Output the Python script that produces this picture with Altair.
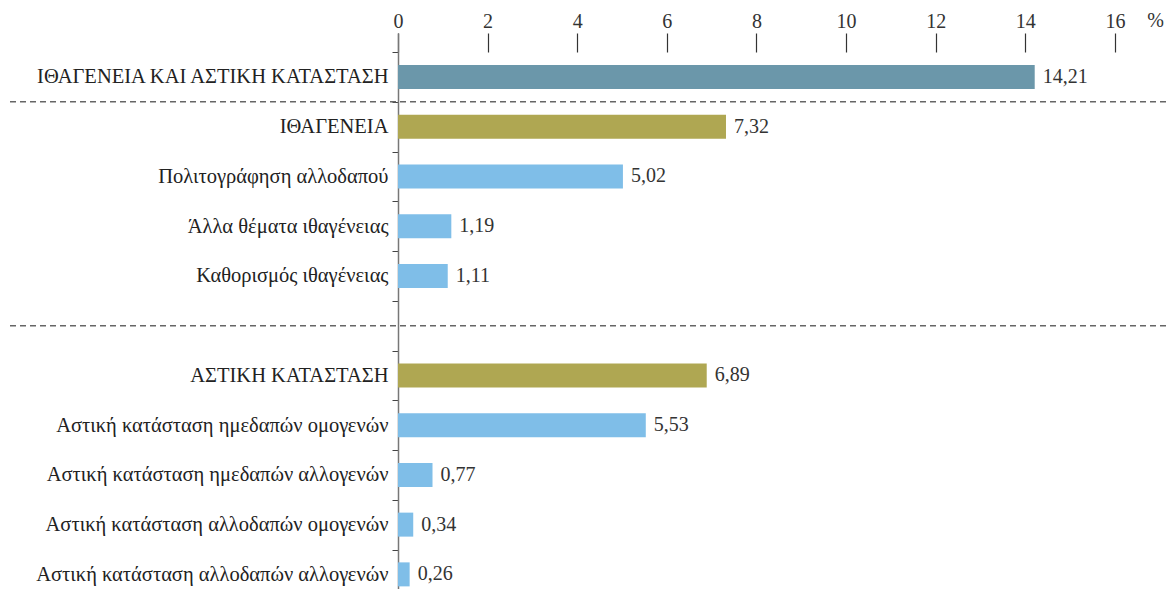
import altair as alt
import pandas as pd

cats = [
    "ΙΘΑΓΕΝΕΙΑ ΚΑΙ ΑΣΤΙΚΗ ΚΑΤΑΣΤΑΣΗ",
    "ΙΘΑΓΕΝΕΙΑ",
    "Πολιτογράφηση αλλοδαπού",
    "Άλλα θέματα ιθαγένειας",
    "Καθορισμός ιθαγένειας",
    " ",
    "ΑΣΤΙΚΗ ΚΑΤΑΣΤΑΣΗ",
    "Αστική κατάσταση ημεδαπών ομογενών",
    "Αστική κατάσταση ημεδαπών αλλογενών",
    "Αστική κατάσταση αλλοδαπών ομογενών",
    "Αστική κατάσταση αλλοδαπών αλλογενών",
]
values = [14.21, 7.32, 5.02, 1.19, 1.11, None, 6.89, 5.53, 0.77, 0.34, 0.26]
levels = ["total", "group", "sub", "sub", "sub", None, "group", "sub", "sub", "sub", "sub"]
x_ticks = [0, 2, 4, 6, 8, 10, 12, 14, 16]

rows = []
for c, v, l in zip(cats, values, levels):
    if v is None:
        continue
    rows.append({"cat": c, "val": v, "level": l, "label": f"{v:.2f}".replace(".", ",")})
df = pd.DataFrame(rows)

FONT = "Liberation Serif"
STEP = 49.75
TOP = 19
PO = TOP / STEP
R = STEP * (len(cats) + 2 * PO)
W = 768
H = 556

yscale = alt.Scale(domain=cats, range=[0, R], paddingInner=0, paddingOuter=PO)
xscale = alt.Scale(domain=[0, 17.14], nice=False, zero=True)

bars = alt.Chart(df).mark_bar(size=24).encode(
    x=alt.X("val:Q", scale=xscale,
            axis=alt.Axis(orient="top", values=x_ticks, offset=-19, tickSize=19,
                          domain=False, grid=False, labelFont=FONT, labelFontSize=20,
                          labelColor="#333", tickColor="#333", tickWidth=1.2,
                          labelPadding=2, labelFlush=False,
                          title="%", titleX=757, titleY=-32, titleAngle=0,
                          titleBaseline="middle", titleAlign="center",
                          titleFont=FONT, titleFontSize=20, titleFontWeight="normal",
                          titleColor="#333")),
    y=alt.Y("cat:N", sort=cats, scale=yscale,
            axis=alt.Axis(title=None, domain=True, domainColor="#777", domainWidth=1.5,
                          ticks=True, tickSize=6, tickColor="#444", tickWidth=1,
                          tickOffset=-STEP / 2, labelOffset=STEP / 2,
                          labelFont=FONT, labelFontSize=20.5, labelColor="#222",
                          labelLimit=500, labelPadding=4, grid=False)),
    color=alt.Color("level:N", scale=alt.Scale(domain=["total", "group", "sub"],
                                                range=["#6B97AA", "#AFA752", "#7FBEE8"]),
                    legend=None),
)

texts = alt.Chart(df).mark_text(align="left", baseline="middle", dx=8,
                                font=FONT, fontSize=20, color="#333").encode(
    x=alt.X("val:Q", scale=xscale),
    y=alt.Y("cat:N", sort=cats, scale=yscale),
    text="label:N",
)

sep1 = alt.Chart(pd.DataFrame({"cat": [cats[1]]})).mark_rule(
    strokeDash=[6, 4], color="#666", strokeWidth=1.5).encode(
    y=alt.Y("cat:N", sort=cats, scale=yscale, bandPosition=0),
    x=alt.value(-388), x2=alt.value(W),
)
sep2 = alt.Chart(pd.DataFrame({"cat": [cats[5]]})).mark_rule(
    strokeDash=[6, 4], color="#666", strokeWidth=1.5).encode(
    y=alt.Y("cat:N", sort=cats, scale=yscale, bandPosition=0.5),
    x=alt.value(-388), x2=alt.value(W),
)

chart = alt.layer(bars, texts, sep1, sep2).properties(
    width=W, height=H,
    padding={"left": 390, "top": 25, "right": 0, "bottom": 0},
    autosize=alt.AutoSizeParams(type="none"),
    background="white",
).configure_view(stroke=None)

chart.save("out.html", embed_options={"renderer": "svg", "actions": False})
